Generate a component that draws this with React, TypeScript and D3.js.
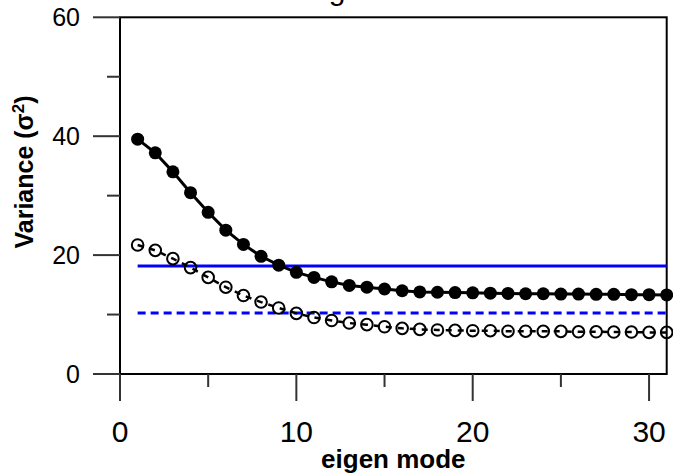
import React from "react";
import * as d3 from "d3";

const modes: number[] = d3.range(1, 32);
const observedVar: number[] = [
  39.5, 37.2, 34.0, 30.5, 27.2, 24.2, 21.8, 19.8, 18.3, 17.1, 16.25, 15.5, 14.9,
  14.6, 14.3, 14.0, 13.8, 13.75, 13.7, 13.65, 13.6, 13.55, 13.5, 13.5, 13.45,
  13.45, 13.4, 13.4, 13.35, 13.35, 13.3,
];
const nullVar: number[] = [
  21.7, 20.8, 19.4, 17.9, 16.25, 14.6, 13.2, 12.1, 11.1, 10.2, 9.5, 9.0, 8.57,
  8.3, 7.95, 7.68, 7.51, 7.4, 7.34, 7.28, 7.28, 7.2, 7.2, 7.17, 7.17, 7.1, 7.1,
  7.06, 7.06, 7.0, 7.0,
];
const thresholdSolid = 18.15;
const thresholdDashed = 10.25;
const xMajorTicks = [0, 10, 20, 30];
const xMinorTicks = [5, 15, 25];
const yMajorTicks = [0, 20, 40, 60];
const yMinorTicks = [10, 30, 50];
const titleText = "Eigenvalues";
const xLabel = "eigen mode";

const W = 673;
const H = 475;
const FONT = "'Liberation Sans', Arial, Helvetica, sans-serif";

export default function App() {
  const x = d3.scaleLinear().domain([0, 31]).range([120, 666.7]);
  const y = d3.scaleLinear().domain([0, 60]).range([374, 17.3]);
  const line = d3
    .line<number>()
    .x((_, i) => x(modes[i]))
    .y((d) => y(d));
  const axisColor = "#333";
  const x0 = x(modes[0]);
  const x1 = x(modes[modes.length - 1]);

  return (
    <svg
      width={W}
      height={H}
      style={{ position: "absolute", left: 0, top: 0, background: "#fff" }}
      fontFamily={FONT}
    >
      <rect x={0} y={0} width={W} height={H} fill="#fff" />
      {/* title (mostly cut off at the top edge, as in the reference) */}
      <text x={302} y={0} fontSize={30} fill="#000">
        {titleText}
      </text>

      {/* box */}
      <rect
        x={x(0)}
        y={y(60)}
        width={x(31) - x(0)}
        height={y(0) - y(60)}
        fill="none"
        stroke="#000"
        strokeWidth={2}
      />

      {/* y ticks */}
      {yMajorTicks.map((t) => (
        <g key={"ym" + t}>
          <line x1={93} x2={x(0)} y1={y(t)} y2={y(t)} stroke={axisColor} strokeWidth={2} />
          <text
            x={80}
            y={y(t)}
            fontSize={25}
            textAnchor="end"
            dominantBaseline="central"
            fill="#000"
          >
            {t}
          </text>
        </g>
      ))}
      {yMinorTicks.map((t) => (
        <line key={"yn" + t} x1={107} x2={x(0)} y1={y(t)} y2={y(t)} stroke={axisColor} strokeWidth={2} />
      ))}

      {/* x ticks */}
      {xMajorTicks.map((t) => (
        <g key={"xm" + t}>
          <line x1={x(t)} x2={x(t)} y1={y(0)} y2={401} stroke={axisColor} strokeWidth={2} />
          <text x={x(t)} y={442} fontSize={30} textAnchor="middle" fill="#000">
            {t}
          </text>
        </g>
      ))}
      {xMinorTicks.map((t) => (
        <line key={"xn" + t} x1={x(t)} x2={x(t)} y1={y(0)} y2={387} stroke={axisColor} strokeWidth={2} />
      ))}

      {/* axis titles */}
      <text
        x={(x(0) + x(31)) / 2}
        y={468}
        fontSize={26}
        fontWeight="bold"
        textAnchor="middle"
        fill="#000"
      >
        {xLabel}
      </text>
      <text
        transform={`translate(33,172) rotate(-90)`}
        fontSize={25}
        fontWeight="bold"
        textAnchor="middle"
        fill="#000"
      >
        Variance (σ
        <tspan fontSize={17} dy={-9}>
          2
        </tspan>
        <tspan dy={9}>)</tspan>
      </text>

      {/* threshold lines */}
      <line
        x1={x0}
        x2={x1}
        y1={y(thresholdSolid)}
        y2={y(thresholdSolid)}
        stroke="#0000ff"
        strokeWidth={3}
      />
      <line
        x1={x0}
        x2={x1}
        y1={y(thresholdDashed)}
        y2={y(thresholdDashed)}
        stroke="#0000ff"
        strokeWidth={3}
        strokeDasharray="8,5"
      />

      {/* null (dashed, open circles) */}
      <path
        d={line(nullVar) || ""}
        fill="none"
        stroke="#000"
        strokeWidth={2.5}
        strokeDasharray="6,6"
      />
      {nullVar.map((v, i) => (
        <circle
          key={"o" + i}
          cx={x(modes[i])}
          cy={y(v)}
          r={5.8}
          fill="none"
          stroke="#000"
          strokeWidth={2}
        />
      ))}

      {/* observed (solid, filled circles) */}
      <path d={line(observedVar) || ""} fill="none" stroke="#000" strokeWidth={3} />
      {observedVar.map((v, i) => (
        <circle key={"f" + i} cx={x(modes[i])} cy={y(v)} r={6.5} fill="#000" />
      ))}
    </svg>
  );
}
